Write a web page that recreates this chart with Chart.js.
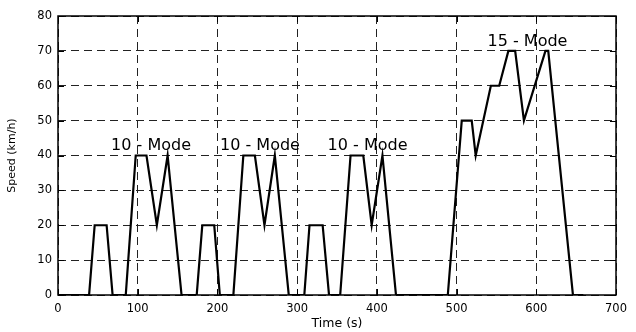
<!DOCTYPE html>
<html>
<head>
<meta charset="utf-8">
<script src="https://cdn.jsdelivr.net/npm/chart.js@4/dist/chart.umd.min.js"></script>
<style>
  html, body { margin: 0; padding: 0; background: #fff; }
  #wrap { width: 636px; height: 332px; }
</style>
</head>
<body>
<div id="wrap"><canvas id="c" width="636" height="332"></canvas></div>
<script>
// Japanese 10-15 mode driving cycle: three 10-mode segments followed by one 15-mode segment
const timeSec = [
  0, 39, 46, 61, 68.5, 85, 97.5, 111, 124, 137.5, 155,
  174, 181, 196, 203, 220, 232.5, 247, 259, 272, 289.5,
  309, 315.5, 332, 340, 354, 367, 383, 393.5, 407, 424,
  489, 506.5, 519, 524, 543, 553.5, 565, 573.5, 584.5, 611.5, 615, 646, 659
];
const speedKmh = [
  0, 0, 20, 20, 0, 0, 40, 40, 20, 40, 0,
  0, 20, 20, 0, 0, 40, 40, 20, 40, 0,
  0, 20, 20, 0, 0, 40, 40, 20, 40, 0,
  0, 50, 50, 40, 60, 60, 70, 70, 50, 70, 70, 0, 0
];

// Segment captions and where they sit (time, speed)
const modeLabels = ['10 - Mode', '10 - Mode', '10 - Mode', '15 - Mode'];
const modeTime = [116.7, 253.4, 388.3, 589];
const modeSpeed = [41.6, 41.6, 41.6, 71.4];

const xTicks = [0, 100, 200, 300, 400, 500, 600, 700];
const yTicks = [0, 10, 20, 30, 40, 50, 60, 70, 80];

const FONT = '"DejaVu Sans", "Liberation Sans", Arial, sans-serif';

const captionPlugin = {
  id: 'captions',
  afterDatasetsDraw(chart) {
    const { ctx, scales: { x, y } } = chart;
    ctx.save();
    ctx.fillStyle = '#000';
    ctx.font = '16px ' + FONT;
    ctx.textAlign = 'center';
    ctx.textBaseline = 'alphabetic';
    modeLabels.forEach((t, i) => {
      ctx.fillText(t, x.getPixelForValue(modeTime[i]), y.getPixelForValue(modeSpeed[i]));
    });
    ctx.restore();
  }
};

// Box around the plot with short inward tick marks on all four sides
const framePlugin = {
  id: 'frame',
  afterDraw(chart) {
    const { ctx, chartArea: a, scales: { x, y } } = chart;
    const len = 6;
    ctx.save();
    ctx.strokeStyle = '#000';
    ctx.lineWidth = 1;
    ctx.beginPath();
    xTicks.forEach(v => {
      const px = Math.round(x.getPixelForValue(v)) + 0.5;
      ctx.moveTo(px, a.bottom); ctx.lineTo(px, a.bottom - len);
      ctx.moveTo(px, a.top); ctx.lineTo(px, a.top + len);
    });
    yTicks.forEach(v => {
      const py = Math.round(y.getPixelForValue(v)) + 0.5;
      ctx.moveTo(a.left, py); ctx.lineTo(a.left + len, py);
      ctx.moveTo(a.right, py); ctx.lineTo(a.right - len, py);
    });
    ctx.stroke();
    ctx.lineWidth = 1.5;
    ctx.strokeRect(a.left, a.top, a.right - a.left, a.bottom - a.top);
    ctx.restore();
  }
};

new Chart(document.getElementById('c'), {
  type: 'line',
  data: {
    datasets: [{
      data: timeSec.map((t, i) => ({ x: t, y: speedKmh[i] })),
      borderColor: '#000',
      borderWidth: 2.2,
      pointRadius: 0,
      tension: 0,
      fill: false
    }]
  },
  options: {
    responsive: false,
    animation: false,
    devicePixelRatio: 1,
    layout: { padding: { left: 0, right: 20, top: 16, bottom: 0 } },
    plugins: { legend: { display: false }, tooltip: { enabled: false } },
    scales: {
      x: {
        type: 'linear',
        min: 0, max: 700,
        afterBuildTicks: s => { s.ticks = xTicks.map(v => ({ value: v })); },
        afterFit: s => { s.height = 37; },
        ticks: { color: '#000', font: { family: FONT, size: 11.5 }, padding: 7, maxRotation: 0 },
        grid: { color: '#222', lineWidth: 1, drawTicks: false },
        border: { display: false, dash: [8, 5] },
        title: { display: true, text: 'Time (s)', color: '#000', font: { family: FONT, size: 12.5 }, padding: { top: 0, bottom: 1 } }
      },
      y: {
        type: 'linear',
        min: 0, max: 80,
        afterBuildTicks: s => { s.ticks = yTicks.map(v => ({ value: v })); },
        afterFit: s => { s.width = 58; },
        ticks: { color: '#000', font: { family: FONT, size: 11.5 }, padding: 6 },
        grid: { color: '#222', lineWidth: 1, drawTicks: false },
        border: { display: false, dash: [8, 5] },
        title: { display: true, text: 'Speed (km/h)', color: '#000', font: { family: FONT, size: 11 }, padding: { top: 6, bottom: 0 } }
      }
    }
  },
  plugins: [captionPlugin, framePlugin]
});
</script>
</body>
</html>
